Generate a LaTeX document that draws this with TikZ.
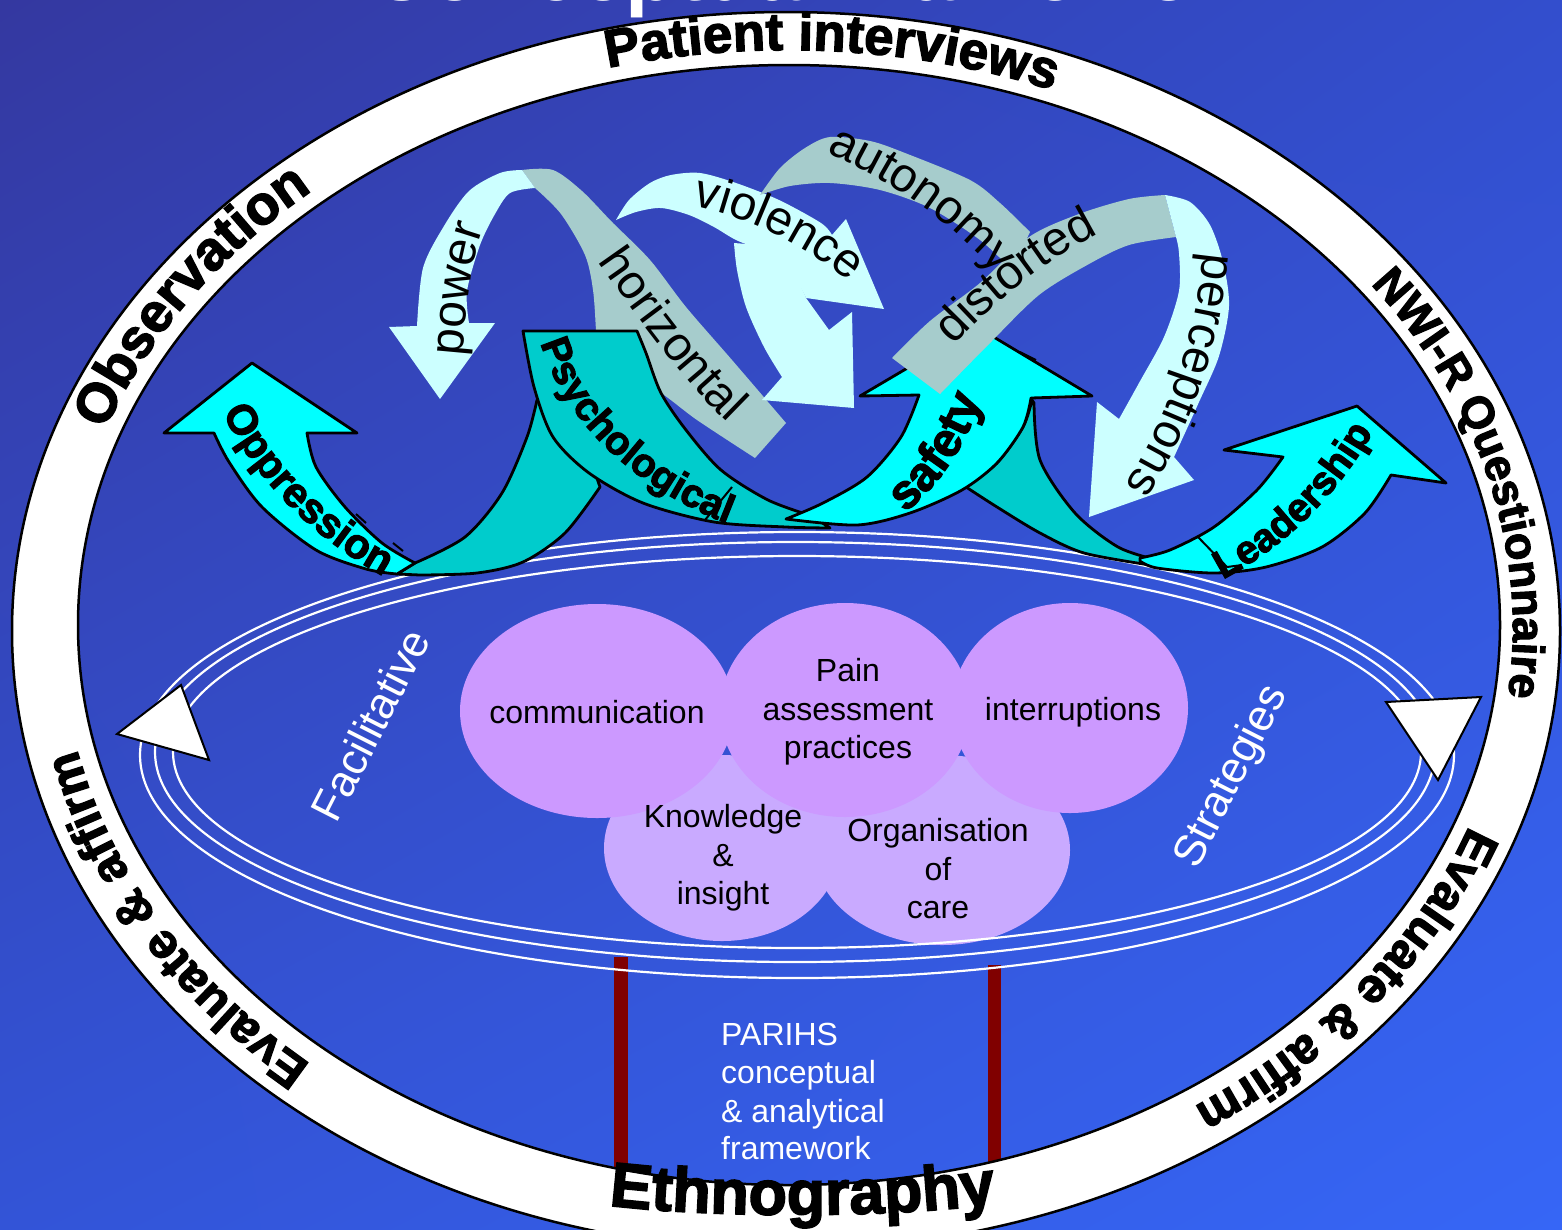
\documentclass[tikz,border=0pt]{standalone}
\usepackage{fontspec}
\setmainfont{Liberation Sans}
\newfontfamily\heavyfont{Liberation Sans}[BoldFeatures={FakeBold=2.5}]
\usetikzlibrary{decorations.text,shadings}
\definecolor{bgUL}{RGB}{52,56,160}
\definecolor{bgUR}{RGB}{51,78,205}
\definecolor{bgLL}{RGB}{51,84,215}
\definecolor{bgLR}{RGB}{54,102,246}
\definecolor{cyanA}{RGB}{0,255,255}
\definecolor{tealB}{RGB}{0,204,204}
\definecolor{lightC}{RGB}{204,255,255}
\definecolor{grayD}{RGB}{166,204,204}
\definecolor{blobA}{RGB}{204,153,255}
\definecolor{blobB}{RGB}{201,170,255}
\definecolor{barred}{RGB}{128,0,0}
\newcommand\rgA{\heavyfont\bfseries\fontsize{53}{60}\selectfont}
\newcommand\rgB{\heavyfont\bfseries\fontsize{55}{60}\selectfont}
\newcommand\rgC{\heavyfont\bfseries\fontsize{45}{50}\selectfont}
\newcommand\rgD{\heavyfont\bfseries\fontsize{49}{52}\selectfont}
\newcommand\rgE{\heavyfont\bfseries\fontsize{63}{66}\selectfont}
\newcommand\rbR{\fontsize{48}{54}\selectfont}
\newcommand\rbOpp{\heavyfont\bfseries\fontsize{42}{46}\selectfont}
\newcommand\rbPsy{\heavyfont\bfseries\fontsize{40}{44}\selectfont}
\newcommand\rbSaf{\heavyfont\bfseries\fontsize{48}{52}\selectfont}
\newcommand\rbLea{\heavyfont\bfseries\fontsize{40}{44}\selectfont}
\newcommand\blobfont{\fontsize{32}{38.5}\selectfont}
\newcommand\labfont{\fontsize{44}{50}\selectfont}
\newcommand\titlefont{\bfseries\fontsize{84}{90}\selectfont}
\begin{document}
\begin{tikzpicture}[x=1pt,y=1pt,
  outl/.style={draw=black, line width=2.8pt, line join=round},
  frontc/.style={outl, fill=cyanA},
  backc/.style={outl, fill=tealB},
  lightr/.style={fill=lightC},
  grayr/.style={fill=grayD},
  orbitline/.style={draw=white, line width=2.2pt},
  headtri/.style={fill=white, draw=black, line width=2pt, line join=miter},
  blobtxt/.style={font=\blobfont, text=black, align=center, inner sep=0pt},
  whitelab/.style={font=\labfont, text=white, inner sep=0pt},
  parihs/.style={font=\blobfont, text=white, inner sep=0pt, anchor=base west},
  tick/.style={draw=black, line width=2pt}
]
\useasboundingbox (0,0) rectangle (1562,-1229);
\clip (0,0) rectangle (1562,-1229);
\shade[shading=bilinear interpolation, upper left=bgUL, upper right=bgUR, lower left=bgLL, lower right=bgLR] (0,0) rectangle (1562,-1229);

% cut-off title
\node[anchor=base, text=white, font=\titlefont, inner sep=0pt] (title) at (822,-0.5) {Conceptual framework};

% red bars
\fill[barred] (614,-957) rectangle (628,-1190);
\fill[barred] (988,-965) rectangle (1001,-1190);

% outer ring
\fill[white, even odd rule] (786,-631) ellipse [x radius=774, y radius=619] (789,-625) ellipse [x radius=711, y radius=560];
\draw[line width=2.5pt] (786,-631) ellipse [x radius=774, y radius=619];
\draw[line width=2.5pt] (789,-625) ellipse [x radius=711, y radius=560];

% ring texts
\path[decorate, decoration={text along path, text align=center, text={|\rgA|Patient interviews}}]
  ([shift={(787,-628)}]136:726 and 578) arc[start angle=136, end angle=36, x radius=726, y radius=578];
\path[decorate, decoration={text along path, text={|\rgB|Observation}}]
  ([shift={(787,-628)}]160:726 and 578) arc[start angle=160, end angle=80, x radius=726, y radius=578];
\path[decorate, decoration={text along path, text={|\rgC|NWI-R Questionnaire}}]
  ([shift={(787,-628)}]36.5:726 and 578) arc[start angle=36.5, end angle=-45, x radius=726, y radius=578];
\path[decorate, decoration={text along path, text={|\rgD|Evaluate {\&} affirm}}]
  ([shift={(787,-628)}]229:726 and 578) arc[start angle=229, end angle=150, x radius=726, y radius=578];
\path[decorate, decoration={text along path, text={|\rgD|Evaluate {\&} affirm}}]
  ([shift={(787,-628)}]-20:726 and 578) arc[start angle=-20, end angle=-100, x radius=726, y radius=578];
\path[decorate, decoration={text along path, text align=center, text={|\rgE|Ethnography}}]
  (590,-1203) .. controls (700,-1219) and (905,-1219) .. (1015,-1201);

% blobs
\fill[blobB] (722,-848) ellipse [x radius=118, y radius=93];
\fill[blobB] (942,-850) ellipse [x radius=128, y radius=95];
\fill[blobA] (597,-711) ellipse [x radius=137, y radius=107];
\fill[blobA] (845,-710) ellipse [x radius=125, y radius=107];
\fill[blobA] (1070,-708) ellipse [x radius=118, y radius=105];

\node[blobtxt] (comm) at (597,-712) {communication};
\node[blobtxt] (pain) at (848,-712) {Pain\\assessment\\practices};
\node[blobtxt] (inter) at (1073,-712) {interruptions};
\node[blobtxt] (know) at (723,-858) {Knowledge\\\&\\insight};
\node[blobtxt] (orga) at (938,-869) {Organisation\\of\\care};

% orbit
\draw[orbitline] (797,-755) ellipse [x radius=657, y radius=223];
\draw[orbitline] (795,-752) ellipse [x radius=640, y radius=210];
\draw[orbitline] (797,-752) ellipse [x radius=624, y radius=196];
\filldraw[headtri] (117,-734) -- (181,-685) -- (209,-760) -- cycle;
\filldraw[headtri] (1386,-702) -- (1481,-697) -- (1438,-780) -- cycle;

\node[whitelab, rotate=63] (facil) at (370,-725) {Facilitative};
\node[whitelab, rotate=63] (strat) at (1232,-777) {Strategies};

% power (light) + horizontal (gray)
\fill[grayr] (522,-170) -- plot[smooth] coordinates {(522,-170) (553,-170) (582,-191) (612,-222) (650,-260) (686,-307) (732,-360) (786,-423)}
  -- (755,-458) -- plot[smooth] coordinates {(755,-458) (697,-420) (656,-390) (620,-380)}
  -- (598,-360) -- plot[smooth] coordinates {(598,-360) (596,-330) (593,-290) (585,-255) (561,-214) (535,-188)} -- cycle;
\fill[lightr] (440,-399) -- (495,-323) -- (469,-323)
  -- plot[smooth] coordinates {(469,-323) (467,-291) (480,-245) (495,-214) (510,-193) (535,-188)}
  -- (522,-170) -- plot[smooth] coordinates {(522,-170) (500,-173) (469,-191) (444,-226) (423,-268) (417,-326)}
  -- (389,-327) -- cycle;

% cyan ribbons with outlines
\filldraw[backc] plot[smooth] coordinates {(415,-563) (465,-537) (502,-493) (527,-437) (537,-400)}
  -- (570,-400) -- (600,-487) -- plot[smooth] coordinates {(600,-487) (565,-533) (523,-562) (477,-573) (420,-575)}
  -- (397,-574) -- cycle;
\filldraw[frontc] (252,-363) -- (357,-433) -- (307,-433)
  -- plot[smooth] coordinates {(307,-433) (316,-467) (345,-507) (382,-543) (415,-563)}
  -- (397,-574) -- plot[smooth] coordinates {(397,-574) (366,-569) (316,-550) (262,-507) (229,-462) (214,-433)}
  -- (164,-433) -- cycle;
\filldraw[backc] (523,-331) -- (637,-331)
  -- plot[smooth] coordinates {(637,-331) (646,-353) (661,-393) (686,-430) (721,-470) (768,-500) (812,-516)}
  -- (830,-528) -- plot[smooth] coordinates {(830,-528) (786,-527) (714,-522) (643,-503) (589,-473) (553,-437) (534,-387) (523,-331)} -- cycle;
\filldraw[backc] plot[smooth] coordinates {(1032,-400) (1023,-427) (997,-463) (966,-487)}
  -- plot[smooth] coordinates {(966,-487) (997,-507) (1040,-533) (1084,-553) (1150,-565)}
  -- plot[smooth] coordinates {(1157,-560) (1118,-547) (1075,-513) (1040,-460) (1034,-403)} -- cycle;
\filldraw[frontc] (977,-327) -- (1092,-396) -- (1031,-398)
  -- plot[smooth] coordinates {(1031,-398) (1023,-427) (997,-463) (962,-490) (910,-513) (857,-525) (786,-519)}
  -- plot[smooth] coordinates {(786,-519) (823,-503) (867,-477) (901,-437) (919,-395)}
  -- (860,-396) -- cycle;
\filldraw[frontc] (1357,-406) -- (1446,-483) -- (1391,-475)
  -- plot[smooth] coordinates {(1391,-475) (1365,-513) (1322,-547) (1266,-567) (1214,-573) (1157,-568) (1140,-561)}
  -- plot[smooth] coordinates {(1140,-558) (1170,-550) (1214,-527) (1257,-490) (1283,-457)}
  -- (1224,-450) -- cycle;

% violence (light)
\fill[lightr] plot[smooth] coordinates {(616,-220) (629,-200) (650,-183) (671,-175) (700,-173) (736,-183) (779,-200) (821,-223) (832,-235)}
  -- (846,-219) -- (884,-309) -- (806,-298)
  -- plot[smooth] coordinates {(806,-298) (790,-270) (765,-252) (736,-240) (714,-227) (689,-215) (661,-208) (636,-212) (616,-220)} -- cycle;
\fill[lightr] plot[smooth] coordinates {(734,-243) (737,-270) (746,-307) (764,-347) (782,-377)}
  -- (762,-400) -- (854,-408) -- (852,-312) -- (829,-330) -- (806,-298) -- (790,-262) -- (760,-245) -- cycle;
% autonomy (gray)
\fill[grayr] plot[smooth] coordinates {(760,-195) (780,-168) (805,-148) (830,-137) (870,-141) (905,-153) (970,-180) (1000,-203) (1030,-232)}
  -- (1012,-270) -- plot[smooth] coordinates {(1012,-270) (980,-240) (930,-208) (880,-190) (830,-183) (790,-186) (760,-195)} -- cycle;
% distorted (gray)
\fill[grayr] (892,-358) -- plot[smooth] coordinates {(892,-358) (930,-321) (980,-283) (1029,-237) (1079,-214) (1129,-199) (1165,-195)}
  -- (1176,-237) -- plot[smooth] coordinates {(1176,-237) (1129,-245) (1089,-264) (1039,-295) (989,-344) (940,-394)} -- cycle;
% perceptions (light)
\fill[lightr] plot[smooth] coordinates {(1165,-195) (1190,-202) (1210,-225) (1223,-262) (1229,-306) (1219,-356) (1199,-402) (1174,-457)}
  -- (1194,-480) -- (1089,-517) -- (1097,-402) -- (1119,-419)
  -- plot[smooth] coordinates {(1119,-419) (1139,-383) (1164,-337) (1179,-291) (1179,-253) (1176,-237)} -- cycle;

% small marks on the ribbons
\draw[tick] (705,-520) -- (732,-487);
\draw[tick] (356,-514) -- (366,-523);
\draw[tick] (393,-543) -- (403,-551);
\draw[tick] (1198,-537) -- (1227,-567) -- (1242,-565);
\draw[tick] (1020,-352) -- (1036,-360);

% ribbon labels
\path[decorate, decoration={text along path, text align=center, text={|\rbR|power}}]
  (462,-362) .. controls (466,-320) and (470,-260) .. (486,-222);
\path[decorate, decoration={text along path, text align=center, text={|\rbR|horizontal}}]
  (590,-250) .. controls (625,-300) and (680,-380) .. (738,-432);
\path[decorate, decoration={text along path, text align=center, text={|\rbR|violence}}]
  (690,-205) .. controls (740,-215) and (800,-240) .. (852,-284);
\path[decorate, decoration={text along path, text align=center, text={|\rbR|autonomy}}]
  (820,-150) .. controls (870,-170) and (950,-215) .. (1000,-280);
\path[decorate, decoration={text along path, text align=center, text={|\rbR|distorted}}]
  (945,-355) .. controls (985,-310) and (1050,-255) .. (1110,-228);
\path[decorate, decoration={text along path, text align=center, text={|\rbR|perceptions}}]
  (1205,-235) .. controls (1200,-300) and (1185,-400) .. (1115,-500);
\path[decorate, decoration={text along path, text align=center, text={|\rbOpp|Oppression}}]
  (215,-395) .. controls (245,-470) and (310,-540) .. (400,-585);
\path[decorate, decoration={text along path, text align=center, text={|\rbPsy|Psychological}}]
  (536,-325) .. controls (556,-420) and (640,-495) .. (745,-530);
\path[decorate, decoration={text along path, text align=center, text={|\rbSaf|safety}}]
  (880,-530) .. controls (930,-500) and (970,-450) .. (990,-370);
\path[decorate, decoration={text along path, text align=center, text={|\rbLea|Leadership}}]
  (1200,-590) .. controls (1260,-565) and (1335,-510) .. (1385,-410);

% PARIHS text
\node[parihs] (par1) at (721,-1045) {PARIHS};
\node[parihs] (par2) at (721,-1083) {conceptual};
\node[parihs] (par3) at (721,-1122) {\& analytical};
\node[parihs] (par4) at (721,-1159) {framework};
\end{tikzpicture}
\end{document}
